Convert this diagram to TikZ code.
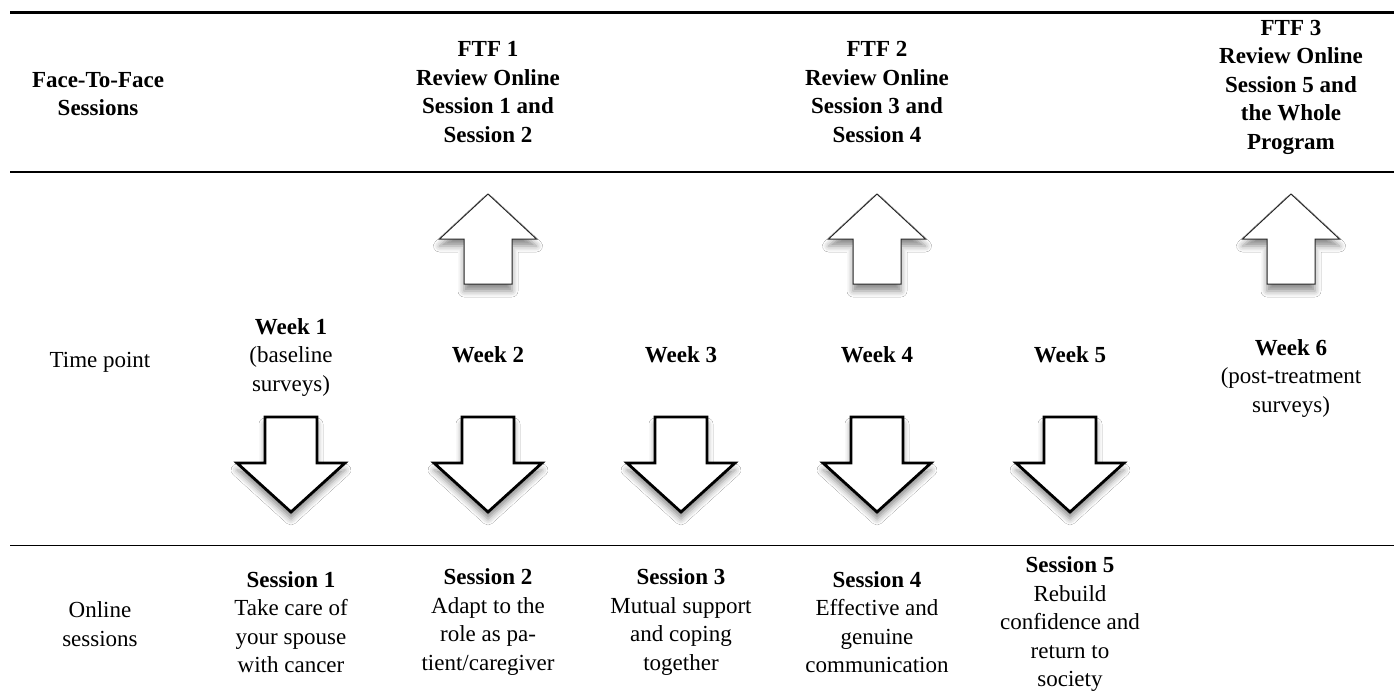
\documentclass[tikz,border=0pt]{standalone}
\usepackage{fontspec}
\setmainfont{Liberation Serif}
\usetikzlibrary{shadows.blur}
\tikzset{
  txt/.style={align=center, inner sep=0pt, font=\fontsize{23}{28.5}\selectfont},
  btxt/.style={align=center, inner sep=0pt, font=\fontsize{23}{28.5}\selectfont\bfseries},
  arrshadow/.style={blur shadow={shadow xshift=0pt, shadow yshift=-7pt, shadow blur radius=6pt, shadow opacity=45}},
  downarrowshape/.style={draw=black, line width=2.8pt, fill=white, line join=miter, arrshadow},
  uparrowshape/.style={draw=black!85, line width=1pt, fill=white, line join=miter, arrshadow},
  downarr/.pic={\path[downarrowshape] (-26,0) -- (26,0) -- (26,46) -- (54,46) -- (0,95) -- (-54,46) -- (-26,46) -- cycle;},
  uparr/.pic={\path[uparrowshape] (0,0) -- (48.5,45) -- (24,45) -- (24,90) -- (-24,90) -- (-24,45) -- (-48.5,45) -- cycle;}
}
\begin{document}
\begin{tikzpicture}[x=1pt,y=-1pt]
\useasboundingbox[fill=white] (0,0) rectangle (1394,697);
% rules
\coordinate (r1l) at (10,12.5); \coordinate (r1r) at (1394,12.5);
\coordinate (r2l) at (10,172); \coordinate (r2r) at (1394,172);
\coordinate (r3l) at (10,545); \coordinate (r3r) at (1394,545);
\draw[line width=2.2pt] (r1l) -- (r1r);
\draw[line width=1.4pt] (r2l) -- (r2r);
\draw[line width=0.9pt] (r3l) -- (r3r);
% header row
\node[btxt] (ftfhead) at (98,94) {Face-To-Face\\Sessions};
\node[btxt] (ftf1) at (488,92) {FTF 1\\Review Online\\Session 1 and\\Session 2};
\node[btxt] (ftf2) at (877,92) {FTF 2\\Review Online\\Session 3 and\\Session 4};
\node[btxt] (ftf3) at (1291,87) {FTF 3\\Review Online\\Session 5 and\\the Whole\\Program};
% up arrows
\pic at (488,194) {uparr};
\pic at (877,194) {uparr};
\pic at (1291,194) {uparr};
% time row
\node[txt] (tp) at (100,362) {Time point};
\node[txt] (w1) at (291,357) {\textbf{Week 1}\\(baseline\\surveys)};
\node[btxt] (w2) at (488,355) {Week 2};
\node[btxt] (w3) at (681,355) {Week 3};
\node[btxt] (w4) at (877,355) {Week 4};
\node[btxt] (w5) at (1070,355) {Week 5};
\node[txt] (w6) at (1291,378) {\textbf{Week 6}\\(post-treatment\\surveys)};
% down arrows
\pic at (291,417) {downarr};
\pic at (488,417) {downarr};
\pic at (681,417) {downarr};
\pic at (877,417) {downarr};
\pic at (1070,417) {downarr};
% online row
\node[txt] (onl) at (100,624) {Online\\sessions};
\node[txt] (s1) at (291,622) {\textbf{Session 1}\\Take care of\\your spouse\\with cancer};
\node[txt] (s2) at (488,622) {\textbf{Session 2}\\Adapt to the\\role as pa-\\tient/caregiver};
\node[txt] (s3) at (681,622) {\textbf{Session 3}\\Mutual support\\and coping\\together};
\node[txt] (s4) at (877,622) {\textbf{Session 4}\\Effective and\\genuine\\communication};
\node[txt] (s5) at (1070,624) {\textbf{Session 5}\\Rebuild\\confidence and\\return to\\society};
\end{tikzpicture}
\end{document}
